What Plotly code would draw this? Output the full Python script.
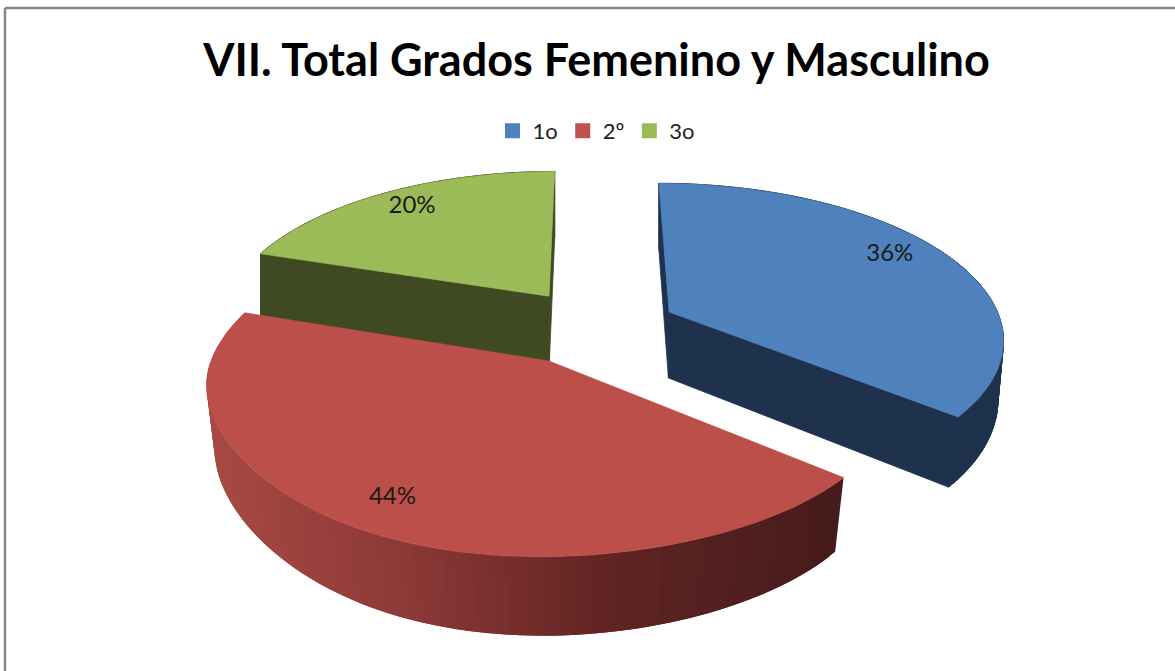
import math
import plotly.graph_objects as go

# data
categories = ["1o", "2º", "3o"]
values = [36, 44, 20]
labels = ["36%", "44%", "20%"]
title_text = "VII. Total Grados Femenino y Masculino"

# styles
top_colors = ["#4F81BD", "#BD4F4B", "#9BBB59"]
side_colors = ["#1E324D", "#4A1C1C", "#404A22"]
red_ramp = [(205, (168, 74, 68)), (400, (142, 58, 56)), (520, (118, 46, 44)),
            (600, (98, 38, 36)), (850, (70, 27, 27))]

# projection of the tilted pie plane onto the page
CX, CY, R, A, K, H = 592, 361, 345, 164, 0.162, 66
offsets = [(0.235, -0.314), (-0.1246, 0.0), (-0.133, -0.422)]
u_factor = [1.0, 0.98, 0.99]
skew_factor = [0, 61, 0]
label_r = [0.78, 0.85, 0.83]
label_shift = [(4, -10), (10, -2), (2, -2)]


def scale(v):
    return 1 / (1 - K * v)


def top(u, v, c=0):
    s = scale(v)
    skew = c * v * v * (1 - v) if 0 < v < 1 else 0
    return CX + R * u * s + skew, CY + A * v * s


def bottom(u, v, c=0):
    x, y = top(u, v, c)
    q = 0.025 * max(v + 0.7, 0)
    return CX + (x - CX) * (1 - q), y + H + 13 * max(v, 0)


def rim(i, deg):
    a = math.radians(deg)
    return offsets[i][0] + u_factor[i] * math.sin(a), offsets[i][1] - math.cos(a)


def poly(pts, color, width=0.6):
    xs = [p[0] for p in pts] + [pts[0][0]]
    ys = [p[1] for p in pts] + [pts[0][1]]
    return go.Scatter(x=xs, y=ys, mode="lines", fill="toself", fillcolor=color,
                      line=dict(color=color, width=width), hoverinfo="skip", showlegend=False)


def ramp(x):
    if x <= red_ramp[0][0]:
        return "rgb(%d,%d,%d)" % red_ramp[0][1]
    for (x0, c0), (x1, c1) in zip(red_ramp, red_ramp[1:]):
        if x <= x1:
            t = (x - x0) / (x1 - x0)
            return "rgb(%d,%d,%d)" % tuple(a + (b - a) * t for a, b in zip(c0, c1))
    return "rgb(%d,%d,%d)" % red_ramp[-1][1]


total = sum(values)
spans = []
start = 0.0
for val in values:
    end = start + 360 * val / total
    spans.append((start, end))
    start = end


def arc(i, n=100):
    a0, a1 = spans[i]
    return [rim(i, a0 + (a1 - a0) * k / n) for k in range(n + 1)]


def slice_traces(i):
    traces = []
    apex = offsets[i]
    pts = arc(i)
    c = skew_factor[i]
    # outer wall, painted in overlapping bands
    for k in range(0, len(pts) - 2):
        band = pts[k:k + 3]
        color = ramp(top(*pts[k], c)[0]) if i == 1 else side_colors[i]
        traces.append(poly([top(*p, c) for p in band] + [bottom(*p, c) for p in reversed(band)], color,
                           0 if i == 1 else 0.8))
    # cut faces go over the wall so the shared edge leaves no seam
    if i != 1:
        for end_pt in (pts[0], pts[-1]):
            traces.append(poly([top(*apex, c), top(*end_pt, c), bottom(*end_pt, c), bottom(*apex, c)],
                               side_colors[i], 0.8))
    traces.append(poly([top(*apex, c)] + [top(*p, c) for p in pts], top_colors[i]))
    return traces


fig = go.Figure()
for i in (2, 0, 1):
    fig.add_traces(slice_traces(i))

# percentage labels
lx, ly = [], []
for i in range(3):
    mid = math.radians(sum(spans[i]) / 2)
    x, y = top(offsets[i][0] + label_r[i] * math.sin(mid), offsets[i][1] - label_r[i] * math.cos(mid))
    lx.append(x + label_shift[i][0])
    ly.append(y + label_shift[i][1])
fig.add_trace(go.Scatter(x=lx, y=ly, mode="text", text=labels, showlegend=False, hoverinfo="skip",
                         textfont=dict(family="Lato", size=24, color="#1a1a1a")))

# legend entries
for name, color in zip(categories, ["#4F81BD", "#C0504D", "#9BBB59"]):
    fig.add_trace(go.Scatter(x=[None], y=[None], mode="markers", name=name,
                             marker=dict(symbol="square", size=15, color=color)))

fig.update_layout(
    width=1175, height=671, margin=dict(l=0, r=0, t=0, b=0),
    paper_bgcolor="white", plot_bgcolor="white",
    xaxis=dict(range=[0, 1175], visible=False, fixedrange=True),
    yaxis=dict(range=[671, 0], visible=False, fixedrange=True),
    title=dict(text="<b>" + title_text + "</b>", x=596.5 / 1175, xanchor="center", y=1 - 60 / 671,
               yanchor="middle", font=dict(family="Lato", size=45, color="black")),
    legend=dict(orientation="h", x=596.5 / 1175, xanchor="center", y=1 - 131 / 671, yanchor="middle",
                font=dict(family="Lato", size=22, color="#222222"), itemclick=False,
                bgcolor="rgba(0,0,0,0)", tracegroupgap=0),
    shapes=[
        dict(type="line", xref="paper", yref="paper", x0=5 / 1175, x1=1, y0=1 - 8 / 671, y1=1 - 8 / 671,
             line=dict(color="#868686", width=2.5)),
        dict(type="line", xref="paper", yref="paper", x0=5 / 1175, x1=5 / 1175, y0=0, y1=1 - 8 / 671,
             line=dict(color="#868686", width=2.5)),
    ],
)

fig.write_html("out.html", config={"displayModeBar": False},
               post_script="document.body.style.margin='0';")
